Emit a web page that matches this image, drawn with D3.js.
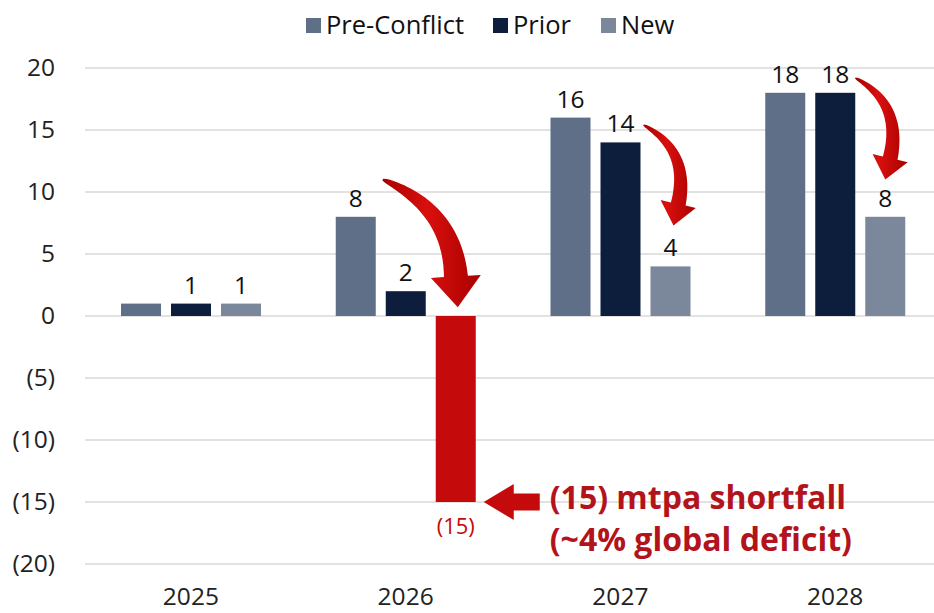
<!DOCTYPE html>
<html><head><meta charset="utf-8">
<script src="https://cdn.jsdelivr.net/npm/d3@7"></script>
<style>
html,body{margin:0;padding:0;background:#fff;}
svg{display:block;font-family:"Open Sans","Noto Sans",sans-serif;}
</style></head>
<body>
<svg id="c" width="934" height="613"></svg>
<script>
const years = ["2025","2026","2027","2028"];
const seriesNames = ["Pre-Conflict","Prior","New"];
const preConflict = [1, 8, 16, 18];
const prior = [1, 2, 14, 18];
const newValues = [1, -15, 4, 8];
const yTicks = [-20,-15,-10,-5,0,5,10,15,20];
// which value labels are shown (2025 Pre-Conflict has none)
const showLabels = [[false,true,true,true],[true,true,true,true],[true,true,true,true]];
const shortfallLine1 = "(15) mtpa shortfall";
const shortfallLine2 = "(~4% global deficit)";

const colors = {"Pre-Conflict":"#5f6f88","Prior":"#0c1e3b","New":"#7b889b"};
const red = "#c40a0a";
const darkRed = "#b3131b";

const svg = d3.select("#c");
const W = 934, H = 613;

const defs = svg.append("defs");
const grad = defs.append("linearGradient").attr("id","redGrad").attr("x1","0").attr("y1","0").attr("x2","1").attr("y2","0");
grad.append("stop").attr("offset","0%").attr("stop-color","#a80000");
grad.append("stop").attr("offset","45%").attr("stop-color","#d8100e");
grad.append("stop").attr("offset","100%").attr("stop-color","#a80000");

const y = d3.scaleLinear().domain([-20,20]).range([564,68]);
const x0 = d3.scaleBand().domain(years).range([83.5,942.5]).padding(0);
const x1 = d3.scaleBand().domain(seriesNames).range([37.5,177.5]).paddingInner(0.2).paddingOuter(0);

const data = seriesNames.map((s,si)=>({name:s, values:[preConflict,prior,newValues][si]}));

// gridlines
svg.append("g").selectAll("line").data(yTicks).join("line")
  .attr("x1",85).attr("x2",W).attr("y1",d=>y(d)).attr("y2",d=>y(d))
  .attr("stroke","#d9d9d9").attr("stroke-width",1.3);

// y axis labels
const fmt = v => v<0 ? "("+Math.abs(v)+")" : String(v);
const yAxis = d3.axisLeft(y).tickValues(yTicks).tickFormat(fmt).tickSize(0).tickPadding(0);
const ya = svg.append("g").attr("transform","translate(55,0)").call(yAxis);
ya.select(".domain").remove();
ya.attr("font-size",null).attr("font-family",null);
ya.selectAll("text").attr("font-size",24.5).attr("fill","#222");

// x axis labels
const xAxis = d3.axisBottom(x0).tickSize(0).tickPadding(0);
const xa = svg.append("g").attr("transform","translate(0,588)").call(xAxis);
xa.select(".domain").remove();
xa.attr("font-size",null).attr("font-family",null);
xa.selectAll("text").attr("font-size",24.5).attr("fill","#222");

// bars
const cx = (yr,s) => x0(yr)+x1(s)+x1.bandwidth()/2;
data.forEach((s,si)=>{
  svg.append("g").selectAll("rect").data(s.values.map((v,i)=>({v,yr:years[i]}))).join("rect")
    .attr("x",d=>x0(d.yr)+x1(s.name))
    .attr("width",x1.bandwidth())
    .attr("y",d=>y(Math.max(0,d.v)))
    .attr("height",d=>Math.abs(y(d.v)-y(0)))
    .attr("fill",d=>d.v<0?red:colors[s.name]);
  svg.append("g").selectAll("text").data(s.values.map((v,i)=>({v,yr:years[i],i})).filter(d=>showLabels[si][d.i])).join("text")
    .attr("x",d=>cx(d.yr,s.name))
    .attr("y",d=>d.v<0 ? y(d.v)+32 : y(d.v)-10)
    .attr("text-anchor","middle")
    .attr("font-size",d=>d.v<0?22:24.5)
    .attr("fill",d=>d.v<0?red:"#111")
    .text(d=>fmt(d.v));
});

// legend
const legendItems = [{s:"Pre-Conflict",x:306},{s:"Prior",x:493},{s:"New",x:601}];
const lg = svg.append("g");
legendItems.forEach(it=>{
  lg.append("rect").attr("x",it.x).attr("y",18).attr("width",15).attr("height",15).attr("fill",colors[it.s]);
  lg.append("text").attr("x",it.x+20).attr("y",34).attr("font-size",25.5).attr("fill","#111").text(it.s);
});

// curved tapered arrows
function taperedArrow(S, T, tilt, shaftW, headW, headL){
  const len = Math.hypot(tilt,1);
  const dir = [tilt/len, 1/len];
  const B = [T[0]-headL*dir[0], T[1]-headL*dir[1]];
  const k = 0.7*(B[1]-S[1]);
  const C = [B[0]-k*dir[0], B[1]-k*dir[1]];
  const n = 40, left=[], right=[];
  for(let i=0;i<=n;i++){
    const t=i/n, mt=1-t;
    const px = mt*mt*S[0]+2*mt*t*C[0]+t*t*B[0];
    const py = mt*mt*S[1]+2*mt*t*C[1]+t*t*B[1];
    let tx = 2*mt*(C[0]-S[0])+2*t*(B[0]-C[0]);
    let ty = 2*mt*(C[1]-S[1])+2*t*(B[1]-C[1]);
    const tl = Math.hypot(tx,ty); tx/=tl; ty/=tl;
    const nx = -ty, ny = tx;
    const w = shaftW*(0.08+0.92*Math.pow(t,0.6))/2;
    left.push([px+nx*w, py+ny*w]); right.push([px-nx*w, py-ny*w]);
  }
  const nB = [-dir[1], dir[0]];
  const hl = [B[0]+nB[0]*headW/2, B[1]+nB[1]*headW/2];
  const hr = [B[0]-nB[0]*headW/2, B[1]-nB[1]*headW/2];
  const pts = left.concat([hl, T, hr], right.reverse());
  return "M"+pts.map(p=>p[0].toFixed(1)+","+p[1].toFixed(1)).join("L")+"Z";
}
const arrows = [
  {yr:"2026", fromS:"Prior", fdx:-23, fromV:11, toS:"New", tdx:2, toV:0.7, tilt:0.06, sw:24, hw:50, hl:31},
  {yr:"2027", fromS:"Prior", fdx:23, fromV:15.4, toS:"New", tdx:3, toV:7.3, tilt:-0.22, sw:15, hw:36, hl:22},
  {yr:"2028", fromS:"Prior", fdx:20, fromV:19.2, toS:"New", tdx:0, toV:11, tilt:-0.23, sw:15, hw:36, hl:22}
];
const ag = svg.append("g");
arrows.forEach(a=>{
  const S=[cx(a.yr,a.fromS)+a.fdx, y(a.fromV)];
  const T=[cx(a.yr,a.toS)+a.tdx, y(a.toV)];
  ag.append("path").attr("d",taperedArrow(S,T,a.tilt,a.sw,a.hw,a.hl)).attr("fill","url(#redGrad)");
});

// left block arrow pointing at the shortfall bar
const tipX = x0("2026")+x1("New")+x1.bandwidth()+8, tipY = y(-15);
const ahL=30, ahH=36, shT=17, totL=56;
svg.append("path").attr("fill",red).attr("d",
  `M${tipX},${tipY} L${tipX+ahL},${tipY-ahH/2} L${tipX+ahL},${tipY-shT/2} L${tipX+totL},${tipY-shT/2} L${tipX+totL},${tipY+shT/2} L${tipX+ahL},${tipY+shT/2} L${tipX+ahL},${tipY+ahH/2} Z`);

// annotation text
const ann = svg.append("g").attr("font-weight",700).attr("font-size",32).attr("fill",darkRed);
ann.append("text").attr("x",tipX+66).attr("y",tipY+7).text(shortfallLine1);
ann.append("text").attr("x",tipX+66).attr("y",tipY+49).text(shortfallLine2);
</script>
</body></html>
